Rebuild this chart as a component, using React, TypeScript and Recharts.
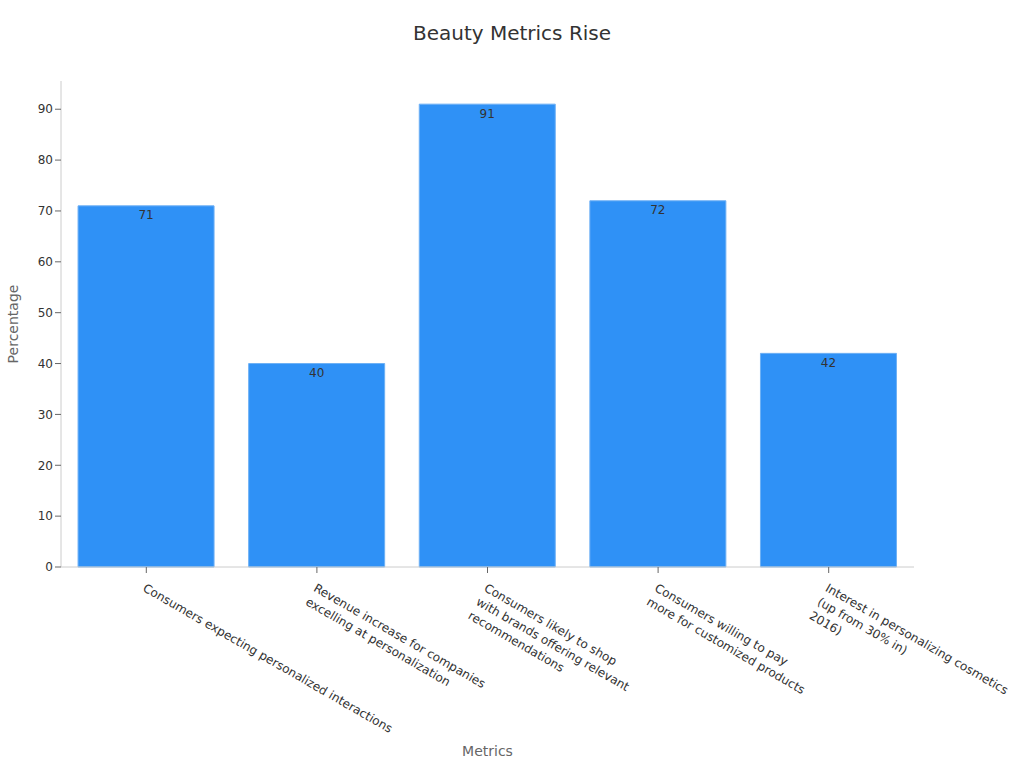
import React from "react";
import { Bar, BarChart, LabelList, XAxis, YAxis } from "recharts";

const categories = [
  "Consumers expecting personalized interactions",
  "Revenue increase for companies excelling at personalization",
  "Consumers likely to shop with brands offering relevant recommendations",
  "Consumers willing to pay more for customized products",
  "Interest in personalizing cosmetics (up from 30% in) 2016)",
];

const tickLines = [
  ["Consumers expecting personalized interactions"],
  ["Revenue increase for companies", "excelling at personalization"],
  ["Consumers likely to shop", "with brands offering relevant", "recommendations"],
  ["Consumers willing to pay", "more for customized products"],
  ["Interest in personalizing cosmetics", "(up from 30% in)", "2016)"],
];

const percentages = [71, 40, 91, 72, 42];

const yTicks = [0, 10, 20, 30, 40, 50, 60, 70, 80, 90];

const FONT = "'DejaVu Sans', sans-serif";

const chartData = categories.map((name, i) => ({ name, value: percentages[i] }));

function RotatedTick(props: any) {
  const { x, y, index } = props;
  const lines = tickLines[index] || [];
  return (
    <g transform={`translate(${x},${y + 8}) rotate(30)`}>
      <text x={0} y={0} fill="#333" fontSize={12} fontFamily={FONT} textAnchor="start">
        {lines.map((line, i) => (
          <tspan key={i} x={0} dy={i === 0 ? "0.71em" : 16}>
            {line}
          </tspan>
        ))}
      </text>
    </g>
  );
}

export default function App() {
  return (
    <div style={{ position: "fixed", left: 0, top: 0, width: 1024, height: 768, background: "#fff", fontFamily: FONT }}>
      <div
        style={{
          position: "absolute",
          top: 21,
          left: 0,
          width: 1024,
          textAlign: "center",
          fontSize: 20,
          color: "#333",
        }}
      >
        Beauty Metrics Rise
      </div>
      <BarChart
        width={1024}
        height={768}
        data={chartData}
        margin={{ top: 81, right: 110, left: 1, bottom: 0 }}
        barCategoryGap="10%"
      >
        <XAxis
          dataKey="name"
          interval={0}
          height={201}
          tick={<RotatedTick />}
          tickLine={{ stroke: "#666" }}
          axisLine={{ stroke: "#ccc" }}
          label={({ viewBox }: any) => (
            <text
              x={viewBox.x + viewBox.width / 2}
              y={756}
              textAnchor="middle"
              fill="#666"
              fontSize={14}
              fontFamily={FONT}
            >
              Metrics
            </text>
          )}
        />
        <YAxis
          width={60}
          domain={[0, 95.55]}
          ticks={yTicks}
          tick={{ fill: "#333", fontSize: 12, fontFamily: FONT }}
          tickLine={{ stroke: "#666" }}
          axisLine={{ stroke: "#ccc" }}
          label={({ viewBox }: any) => (
            <text
              x={18}
              y={viewBox.y + viewBox.height / 2}
              transform={`rotate(-90, 18, ${viewBox.y + viewBox.height / 2})`}
              textAnchor="middle"
              fill="#666"
              fontSize={14}
              fontFamily={FONT}
            >
              Percentage
            </text>
          )}
        />
        <Bar dataKey="value" fill="#2f91f6" stroke="#6db0f5" strokeWidth={1} isAnimationActive={false}>
          <LabelList dataKey="value" position="insideTop" offset={5} fill="#333" fontSize={12} fontFamily={FONT} />
        </Bar>
      </BarChart>
    </div>
  );
}
